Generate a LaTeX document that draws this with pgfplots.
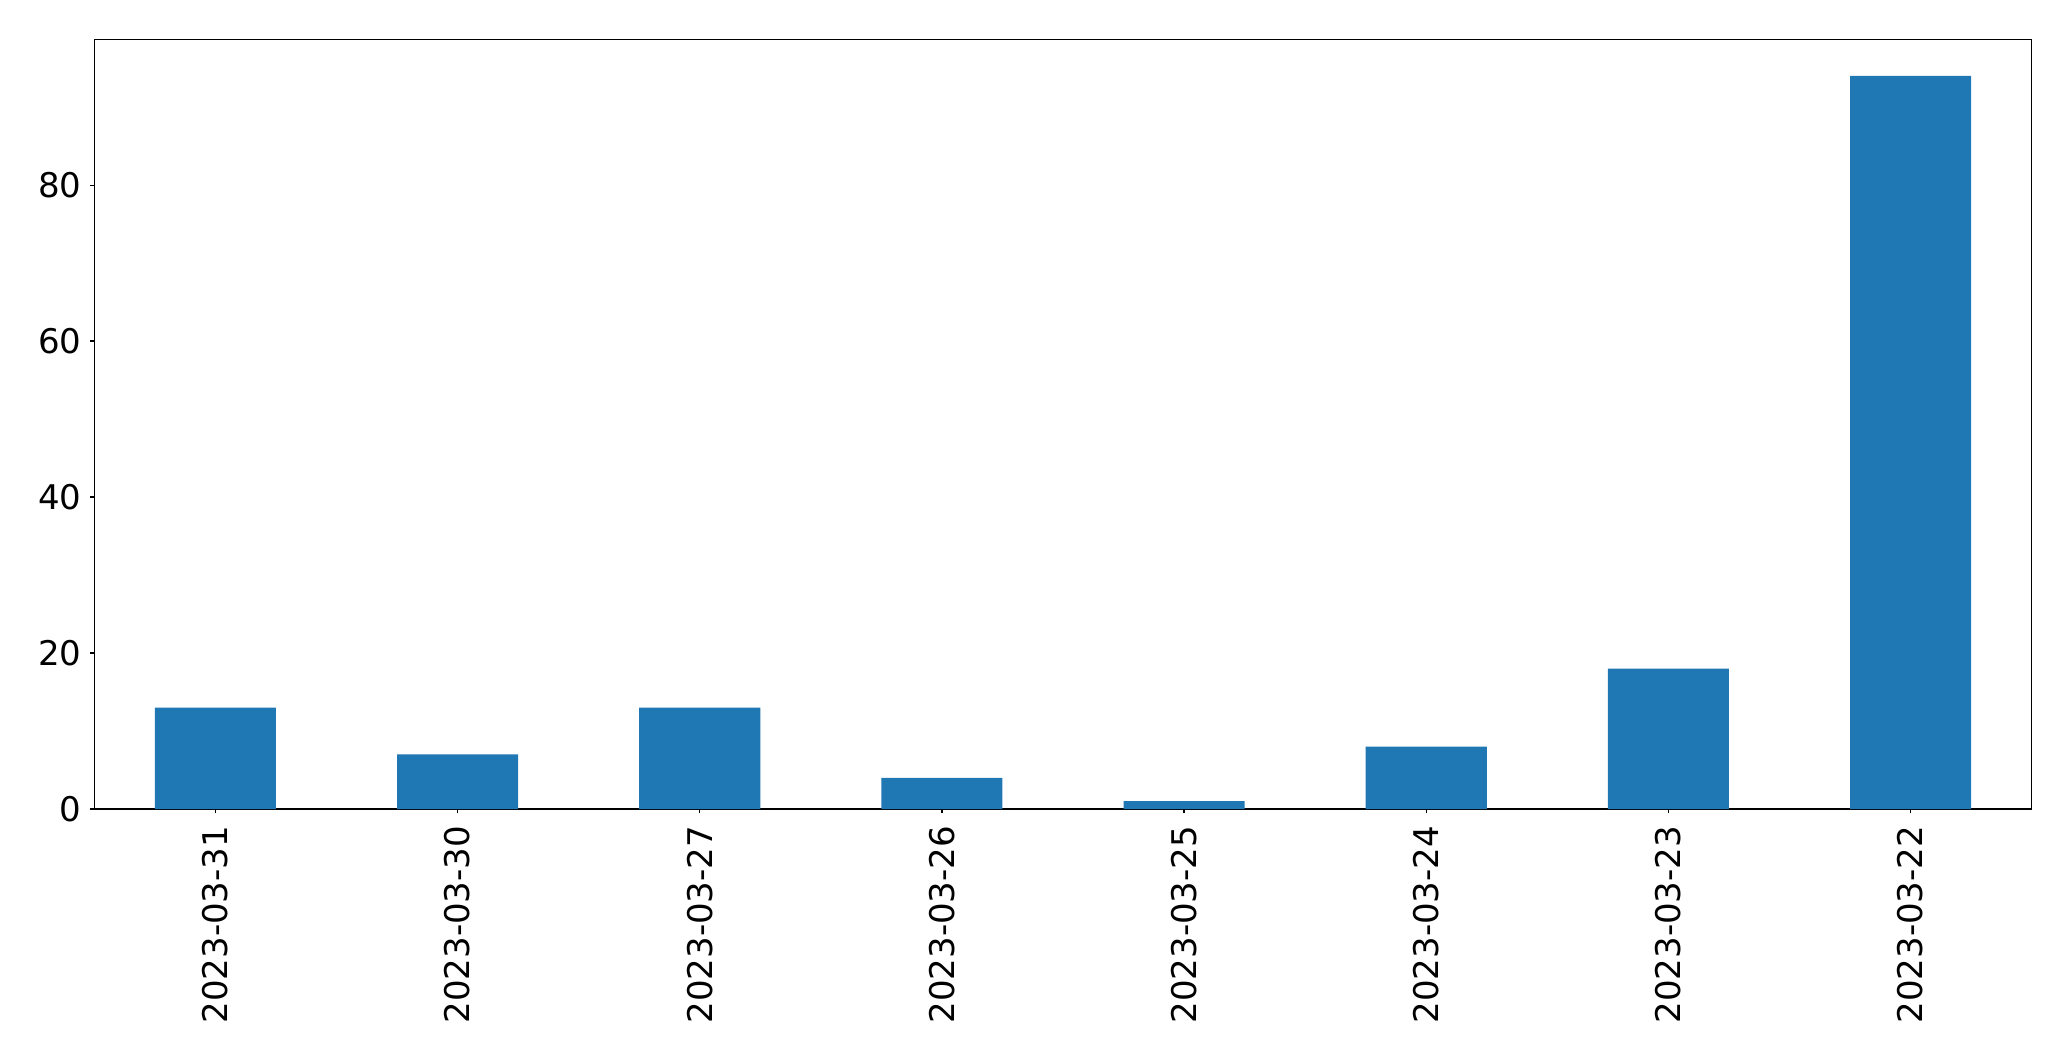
\documentclass[border=0pt]{standalone}
\usepackage{pgfplots}
\pgfplotsset{compat=1.18}
\usepackage{fontspec}
\setmainfont{DejaVu Sans}
\definecolor{barblue}{HTML}{1F77B4}
\begin{document}
\begin{tikzpicture}
\useasboundingbox (0,0) rectangle (1035.5pt,530.5pt);
\begin{axis}[
  at={(47.15pt,126pt)}, anchor=south west,
  scale only axis,
  width=968.7pt, height=384.85pt,
  xmin=-0.5, xmax=7.5, ymin=0, ymax=98.7,
  xtick={0,1,2,3,4,5,6,7},
  xticklabels={2023-03-31,2023-03-30,2023-03-27,2023-03-26,2023-03-25,2023-03-24,2023-03-23,2023-03-22},
  ytick={0,20,40,60,80},
  tick align=outside,
  major tick length=2.2pt,
  tick style={black, line width=0.6pt},
  axis line style={line width=0.6pt},
  xtick pos=bottom, ytick pos=left,
  /pgf/number format/assume math mode=true,
  tick label style={font=\fontsize{17}{20}\selectfont},
  xticklabel style={yshift=-6pt, rotate=90, anchor=east, inner sep=0pt},
  yticklabel style={inner sep=0pt, xshift=-4pt},
  ybar, bar width=0.5,
  bar shift=0pt,
]
\addplot[fill=barblue, draw=none] coordinates {
  (0,13) (1,7) (2,13) (3,4) (4,1) (5,8) (6,18) (7,94)
};
\end{axis}
\end{tikzpicture}
\end{document}
